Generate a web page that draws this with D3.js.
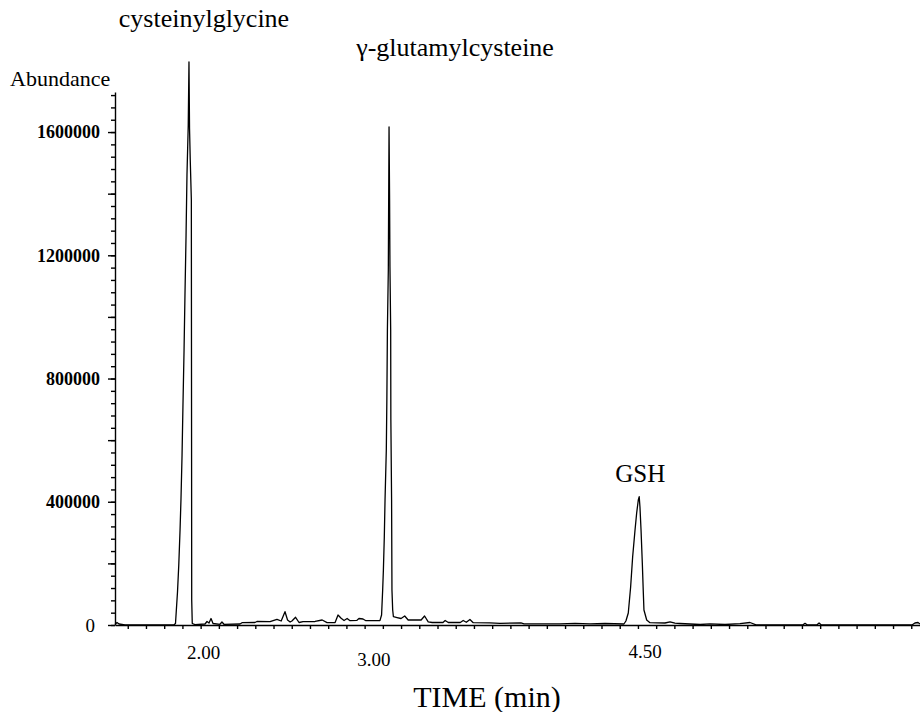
<!DOCTYPE html>
<html>
<head>
<meta charset="utf-8">
<script src="https://cdnjs.cloudflare.com/ajax/libs/d3/7.8.5/d3.min.js"></script>
<style>
  body { margin: 0; background: #fff; }
  svg text { font-family: "Liberation Serif", "Times New Roman", serif; fill: #000; }
  .axis path, .axis line { stroke: #000; }
</style>
</head>
<body>
<div id="chart"></div>
<script>
//Retention time of each trace sample (min).
var timeMin = [
  1.530, 1.541, 1.552, 1.585, 1.722, 1.854,
  1.862, 1.866, 1.873, 1.880, 1.887, 1.892, 1.898, 1.903, 1.909, 1.914, 1.920, 1.925, 1.932,
  1.936, 1.939, 1.943, 1.949, 1.951, 1.954, 1.969,
  2.024, 2.035, 2.046, 2.057, 2.068, 2.106, 2.117, 2.128, 2.216, 2.227, 2.298, 2.309, 2.381,
  2.419, 2.442, 2.463, 2.477, 2.491, 2.501, 2.521, 2.540, 2.562, 2.628, 2.667, 2.694, 2.738,
  2.754, 2.771, 2.787, 2.804, 2.820, 2.858, 2.869, 2.891, 2.907, 2.984,
  2.993, 2.999, 3.003, 3.008, 3.012, 3.019, 3.022, 3.025, 3.030, 3.034, 3.037, 3.039, 3.043,
  3.044, 3.048, 3.050, 3.054, 3.058,
  3.078, 3.100, 3.120, 3.139, 3.210, 3.229, 3.249, 3.271, 3.330, 3.342, 3.359, 3.425, 3.441,
  3.458, 3.478, 3.496, 3.588, 3.643, 3.758, 3.775, 3.972, 4.055, 4.137, 4.219, 4.323,
  4.334, 4.347, 4.360, 4.371, 4.384, 4.393, 4.402, 4.407, 4.411, 4.417, 4.424, 4.429, 4.433,
  4.448, 4.466,
  4.548, 4.576, 4.603, 4.631, 4.741, 4.795, 4.878, 4.960, 5.015, 5.048, 5.306, 5.317, 5.328,
  5.383, 5.394, 5.405, 5.838, 5.904, 5.920, 5.937, 5.948
];

//Abundance, same order as timeMin.
var abundance = [
  1600, 8100, 3200, 600, 600, 600,
  4900, 42200, 107100, 194800, 308400, 405800, 551800, 714100, 892700, 1071200, 1265900, 1460700, 1623000,
  1827500, 1613300, 1509400, 1379600, 81200, 4900, 1300,
  3200, 11400, 6500, 21100, 4900, 2300, 9700, 2300, 3200, 7500, 8100, 11400, 10700,
  18500, 13000, 43200, 16200, 9700, 13000, 25000, 8100, 10700, 11400, 16200, 7500, 8100,
  32500, 21700, 14600, 21100, 14000, 15300, 21100, 19500, 14000, 14000,
  32500, 113600, 178500, 285600, 405800, 568100, 730400, 957600, 1152300, 1616500, 1379600, 1162100, 957600,
  665400, 405800, 113600, 48700, 26900,
  24300, 21100, 29200, 16200, 16200, 29200, 10400, 8100, 8100, 14600, 8100, 8100, 14600,
  8800, 17900, 7500, 7100, 5500, 7100, 3900, 3900, 5500, 3900, 4900, 3200,
  13000, 39000, 124300, 221700, 308400, 363600, 405800, 416500, 384000, 308400, 201300, 113600, 48700,
  16200, 7500,
  6500, 10400, 5800, 4900, 1600, 3900, 1600, 4500, 8100, 600, 600, 5500, 600,
  600, 6500, 600, 0, 0, 6500, 8100, 3200
];

//Peak names and the apex time of each peak.
var peakNames = ["cysteinylglycine", "\u03b3-glutamylcysteine", "GSH"];
var peakTimes = [1.936, 3.034, 4.407];

//Tick labels.
var xLabelValues = [2.00, 3.00, 4.50];
var yLabelValues = [0, 400000, 800000, 1200000, 1600000];

//Label nudges (layout only), in px.
var peakLabelOffset = [[15, 27], [66, 56], [1, 482]];
var xLabelOffset = [[3, 659], [-9, 666], [-11, 658]];

var serif = "'Liberation Serif', 'Times New Roman', Times, serif";

var svgWidth = 920;
var svgHeight = 712;

var svg = d3.select("#chart")
  .append("svg")
  .attr("width", svgWidth)
  .attr("height", svgHeight)
  .attr("font-family", serif);

//Scales: axis corner sits at (115, 625).
var xScale = d3.scaleLinear().domain([1.530, 5.948]).range([115, 920]);
var yScale = d3.scaleLinear().domain([0, 1730000]).range([625, 92]);

var trace = timeMin.map(function(t, i) {
  return { t: t, a: abundance[i] };
});

//Y axis: minor ticks every 40000, longer ticks every 200000.
var yMinor = d3.range(0, 44).map(function(k) { return k * 40000; });
var yMajor = d3.range(0, 9).map(function(k) { return k * 200000; });

svg.append("g")
  .attr("class", "axis")
  .attr("transform", "translate(115,0)")
  .call(d3.axisLeft(yScale).tickValues(yMinor).tickSize(4).tickSizeOuter(0).tickFormat(""))
  .selectAll("path, line").attr("stroke-width", 1.4);

svg.append("g")
  .attr("class", "axis")
  .attr("transform", "translate(115,0)")
  .call(d3.axisLeft(yScale).tickValues(yMajor).tickSize(7).tickSizeOuter(0).tickFormat(""))
  .call(function(g) { g.select(".domain").remove(); })
  .selectAll("line").attr("stroke-width", 1.4);

//Y tick labels.
svg.append("g")
  .selectAll("text")
  .data(yLabelValues)
  .enter().append("text")
  .attr("x", function(d) { return d === 0 ? 95 : 100; })
  .attr("y", function(d) { return yScale(d); })
  .attr("dy", "0.35em")
  .attr("text-anchor", "end")
  .style("font-family", serif)
  .style("font-size", function(d) { return d === 0 ? "19px" : "18px"; })
  .style("font-weight", function(d) { return d === 0 ? "normal" : "bold"; })
  .text(function(d) { return d3.format("d")(d); });

//X axis: ticks every 0.1 min.
var xMinor = d3.range(16, 60).map(function(k) { return k / 10; });

svg.append("g")
  .attr("class", "axis")
  .attr("transform", "translate(0,625)")
  .call(d3.axisBottom(xScale).tickValues(xMinor).tickSize(4).tickSizeOuter(0).tickFormat(""))
  .selectAll("path, line").attr("stroke-width", 1.4);

//X tick labels.
svg.append("g")
  .selectAll("text")
  .data(xLabelValues)
  .enter().append("text")
  .attr("x", function(d, i) { return xScale(d) + xLabelOffset[i][0]; })
  .attr("y", function(d, i) { return xLabelOffset[i][1]; })
  .attr("text-anchor", "middle")
  .style("font-family", serif)
  .style("font-size", "19px")
  .text(function(d) { return d3.format(".2f")(d); });

//Chromatogram trace.
var line = d3.line()
  .x(function(d) { return xScale(d.t); })
  .y(function(d) { return yScale(d.a); });

svg.append("path")
  .datum(trace)
  .attr("d", line)
  .attr("fill", "none")
  .attr("stroke", "#000")
  .attr("stroke-width", 1.3)
  .attr("stroke-linejoin", "round");

//Peak labels.
svg.append("g")
  .selectAll("text")
  .data(peakNames)
  .enter().append("text")
  .attr("x", function(d, i) { return xScale(peakTimes[i]) + peakLabelOffset[i][0]; })
  .attr("y", function(d, i) { return peakLabelOffset[i][1]; })
  .attr("text-anchor", "middle")
  .style("font-family", serif)
  .style("font-size", function(d, i) { return i === 2 ? "25px" : "26px"; })
  .text(function(d) { return d; });

//Axis titles.
svg.append("text")
  .attr("x", 10)
  .attr("y", 86)
  .style("font-family", serif)
  .style("font-size", "22px")
  .text("Abundance");

svg.append("text")
  .attr("x", 487)
  .attr("y", 707)
  .attr("text-anchor", "middle")
  .style("font-family", serif)
  .style("font-size", "30px")
  .text("TIME (min)");
</script>
</body>
</html>
